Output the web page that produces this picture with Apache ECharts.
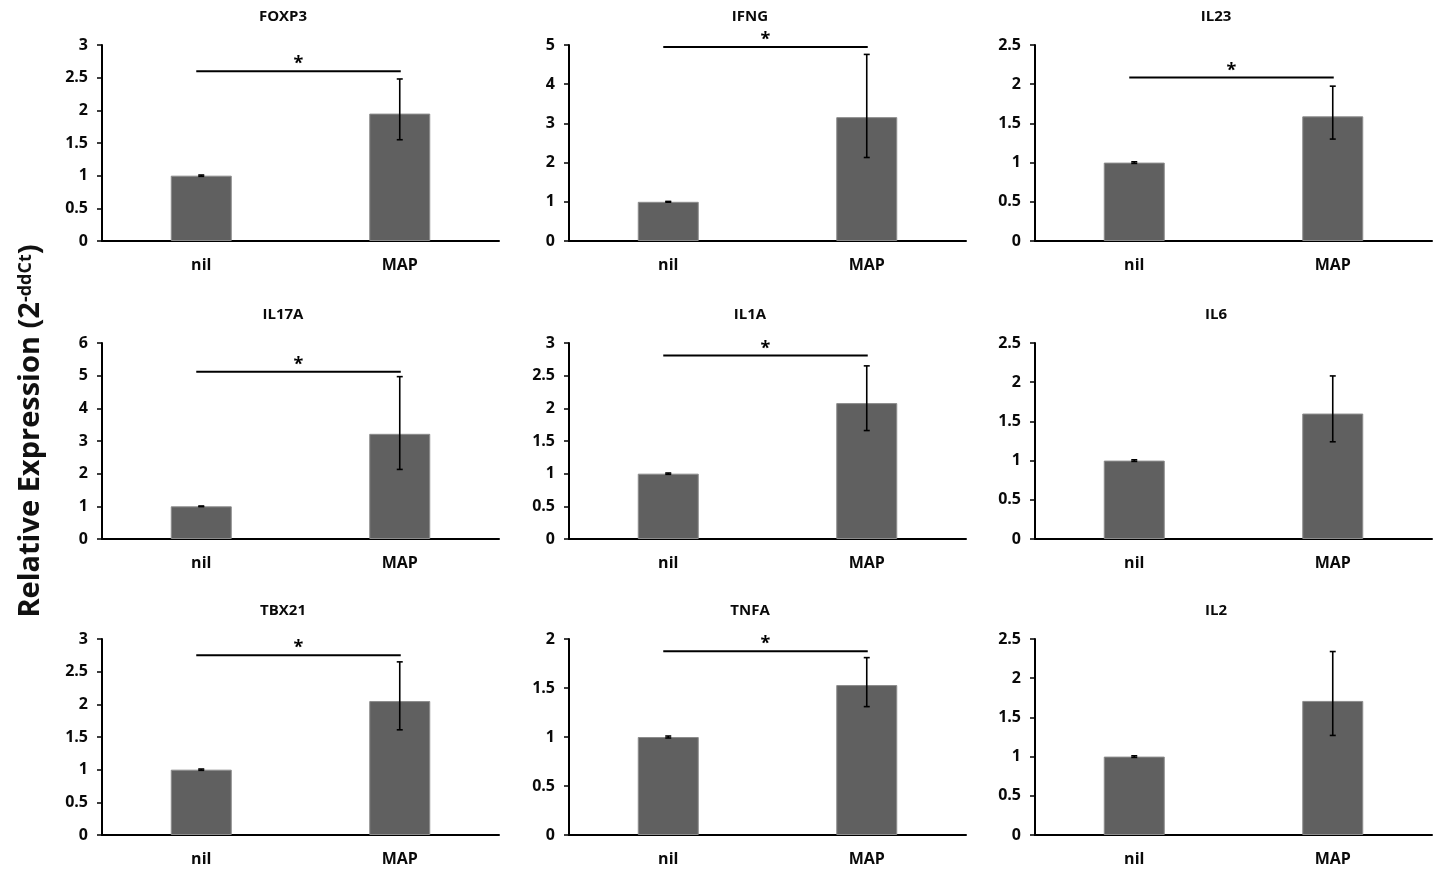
<!DOCTYPE html>
<html>
<head>
<meta charset="utf-8">
<script src="https://cdn.jsdelivr.net/npm/echarts@6/dist/echarts.min.js"></script>
<style>
html,body{margin:0;padding:0;background:#fff;}
#chart{width:1439px;height:874px;}
</style>
</head>
<body>
<div id="chart"></div>
<script>
// ---- data ----
var genes = ['FOXP3', 'IFNG', 'IL23', 'IL17A', 'IL1A', 'IL6', 'TBX21', 'TNFA', 'IL2'];
var categories = ['nil', 'MAP'];
var nilMean = [1, 1, 1, 1, 1, 1, 1, 1, 1];
var nilErrLow = [0.99, 0.99, 0.99, 0.99, 0.99, 0.99, 0.99, 0.99, 0.99];
var nilErrHigh = [1.01, 1.01, 1.01, 1.01, 1.01, 1.01, 1.01, 1.01, 1.01];
var mapMean = [1.95, 3.16, 1.59, 3.22, 2.08, 1.60, 2.05, 1.53, 1.71];
var mapErrLow = [1.55, 2.13, 1.30, 2.13, 1.66, 1.24, 1.61, 1.31, 1.27];
var mapErrHigh = [2.48, 4.76, 1.975, 4.97, 2.65, 2.08, 2.65, 1.81, 2.34];
var yMax = [3, 5, 2.5, 6, 3, 2.5, 3, 2, 2.5];
var yInterval = [0.5, 1, 0.5, 1, 0.5, 0.5, 0.5, 0.5, 0.5];
var sigLevel = [2.60, 4.95, 2.085, 5.12, 2.81, null, 2.75, 1.875, null];
var sigMark = ['*', '*', '*', '*', '*', '', '*', '*', ''];
var yAxisTitle = 'Relative Expression (2';
var yAxisTitleSup = '-ddCt';

// ---- layout ----
var colLeft = [102, 569, 1035];
var rowTop = [45, 343, 639];
var gridW = 397, gridH = 196;
var FONT = '"Open Sans", "Liberation Sans", sans-serif';

var chart = echarts.init(document.getElementById('chart'));
var option = {
  animation: false,
  backgroundColor: '#ffffff',
  grid: [], xAxis: [], yAxis: [], series: [], graphic: []
};

genes.forEach(function (g, i) {
  var c = i % 3, r = Math.floor(i / 3);
  option.grid.push({ left: colLeft[c], top: rowTop[r], width: gridW, height: gridH, containLabel: false });
  option.xAxis.push({
    type: 'category', gridIndex: i, data: categories,
    axisLine: { show: true, lineStyle: { color: '#000', width: 2 } },
    axisTick: { show: false },
    axisLabel: { color: '#0a0a0a', fontFamily: FONT, fontWeight: 'bold', fontSize: 16, margin: 16 }
  });
  option.yAxis.push({
    type: 'value', gridIndex: i, min: 0, max: yMax[i], interval: yInterval[i],
    axisLine: { show: true, lineStyle: { color: '#000', width: 2 } },
    axisTick: { show: true, length: 5, lineStyle: { color: '#000', width: 1.5 } },
    splitLine: { show: false },
    axisLabel: { color: '#0a0a0a', fontFamily: FONT, fontWeight: 'bold', fontSize: 16, margin: 14 }
  });
  option.series.push({
    type: 'bar', xAxisIndex: i, yAxisIndex: i,
    data: [nilMean[i], mapMean[i]],
    barWidth: 61,
    itemStyle: { color: '#606060', borderColor: '#8c8c8c', borderWidth: 1 },
    silent: true
  });
  option.series.push({
    type: 'custom', xAxisIndex: i, yAxisIndex: i,
    data: [[0, nilErrLow[i], nilErrHigh[i]], [1, mapErrLow[i], mapErrHigh[i]]],
    encode: { x: 0, y: [1, 2] },
    z: 5,
    renderItem: function (params, api) {
      var x = api.value(0);
      var hi = api.coord([x, api.value(2)]);
      var lo = api.coord([x, api.value(1)]);
      var cap = 3;
      var st = { stroke: '#000', lineWidth: 1.6 };
      return {
        type: 'group',
        children: [
          { type: 'line', shape: { x1: hi[0], y1: hi[1], x2: lo[0], y2: lo[1] }, style: st },
          { type: 'line', shape: { x1: hi[0] - cap, y1: hi[1], x2: hi[0] + cap, y2: hi[1] }, style: st },
          { type: 'line', shape: { x1: lo[0] - cap, y1: lo[1], x2: lo[0] + cap, y2: lo[1] }, style: st }
        ]
      };
    }
  });
  if (sigLevel[i] !== null) {
    (function (mark) {
      option.series.push({
        type: 'custom', xAxisIndex: i, yAxisIndex: i,
        data: [[0, 1, sigLevel[i]]],
        z: 6,
        renderItem: function (params, api) {
          var lvl = api.value(2);
          var a = api.coord([api.value(0), lvl]);
          var b = api.coord([api.value(1), lvl]);
          var x1 = a[0] - 5, x2 = b[0] + 1;
          return {
            type: 'group',
            children: [
              { type: 'line', shape: { x1: x1, y1: a[1], x2: x2, y2: a[1] }, style: { stroke: '#000', lineWidth: 2 } },
              { type: 'text', x: (x1 + x2) / 2, y: a[1] - 7,
                style: { text: mark, fill: '#000', font: 'bold 18px ' + FONT, align: 'center', verticalAlign: 'middle' } }
            ]
          };
        }
      });
    })(sigMark[i]);
  }
  option.graphic.push({
    type: 'text', x: colLeft[c] + 181, y: rowTop[r] - 28,
    style: { text: g, fill: '#0a0a0a', font: 'bold 15px ' + FONT, align: 'center', verticalAlign: 'middle' }
  });
});

option.graphic.push({
  type: 'text', x: 31, y: 431, rotation: Math.PI / 2,
  style: {
    text: '{a|' + yAxisTitle + '}{b|' + yAxisTitleSup + '}{a|)}',
    align: 'center', verticalAlign: 'middle',
    rich: {
      a: { fontFamily: FONT, fontWeight: 'bold', fontSize: 29, fill: '#111', color: '#111', verticalAlign: 'bottom' },
      b: { fontFamily: FONT, fontWeight: 'bold', fontSize: 18, fill: '#111', color: '#111', verticalAlign: 'top' }
    }
  }
});

chart.setOption(option);
</script>
</body>
</html>
